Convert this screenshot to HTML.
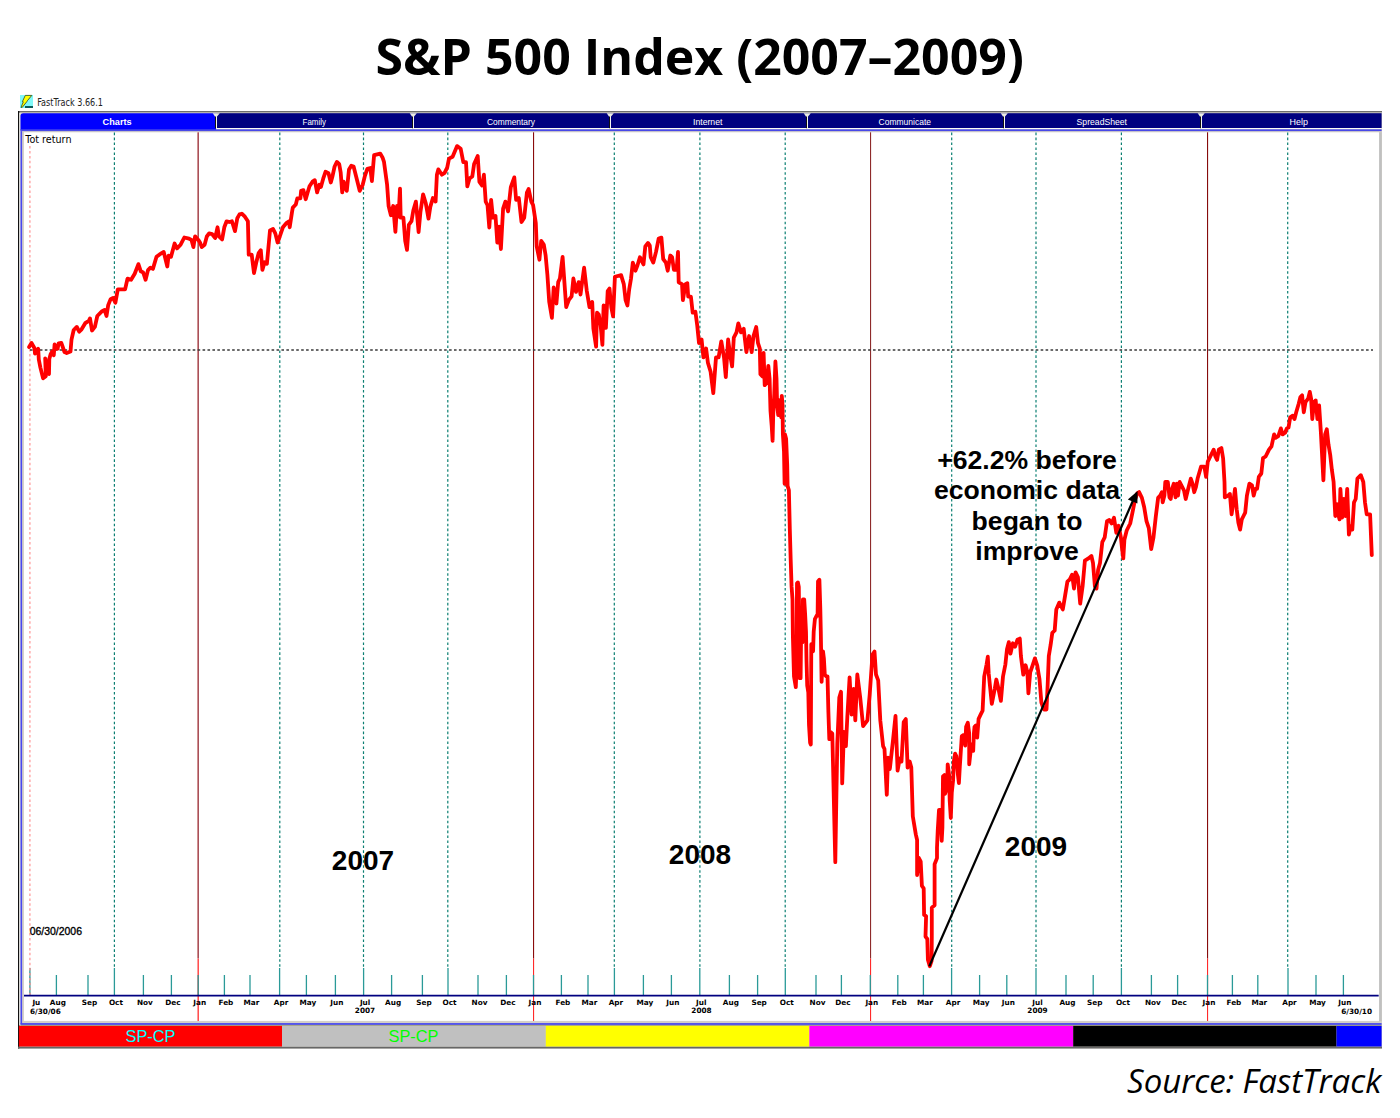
<!DOCTYPE html>
<html><head><meta charset="utf-8"><title>S&amp;P 500 Index (2007–2009)</title>
<style>
html,body{margin:0;padding:0;background:#fff;width:1400px;height:1118px;overflow:hidden}
svg{display:block}
.title{font-family:"Open Sans","Liberation Sans",sans-serif;font-weight:700;font-size:50px;fill:#000}
.src{font-family:"Open Sans","Liberation Sans",sans-serif;font-style:italic;font-size:33px;fill:#000}
.ft{font-family:"DejaVu Sans","Liberation Sans",sans-serif;font-size:10px;fill:#222}
.tab{font-family:"Liberation Sans",sans-serif;font-size:9.6px;fill:#fff}
.tab.b{font-weight:700}
.sp{font-family:"Liberation Sans",sans-serif;font-size:16.4px}
.ax text{font-family:"DejaVu Sans","Liberation Sans",sans-serif;font-weight:700;font-size:7.3px;fill:#000}
.tot{font-family:"DejaVu Sans","Liberation Sans",sans-serif;font-size:10.3px;fill:#000}
.d06{font-family:"Liberation Sans",sans-serif;font-size:11.6px;fill:#000;stroke:#000;stroke-width:0.35px}
.ann text{font-family:"Liberation Sans",Arial,sans-serif;font-weight:700;font-size:26.6px;fill:#000;text-anchor:middle}
.yr{font-family:"Liberation Sans",Arial,sans-serif;font-weight:700;font-size:28px;fill:#000;text-anchor:middle}
</style></head><body>
<svg width="1400" height="1118" viewBox="0 0 1400 1118">
<rect x="0" y="0" width="1400" height="1118" fill="#fff"/>
<text x="699.7" y="74.8" text-anchor="middle" class="title" textLength="648.3" lengthAdjust="spacingAndGlyphs">S&amp;P 500 Index (2007–2009)</text>
<rect x="20" y="95" width="13" height="13" fill="#7ff8f8"/>
<path d="M25.3,95.4 L31.8,95.4 L27.3,100.8 L26.8,101.7 L22.3,107.3 L21,107.4 L23.3,101.8 L22.4,101.6 Z" fill="#ffff00" stroke="#2a3a10" stroke-width="0.75" stroke-linejoin="round"/>
<rect x="25" y="106" width="8" height="2" fill="#0b5a5a"/>
<text x="37.2" y="105.9" class="ft" textLength="65.8" lengthAdjust="spacingAndGlyphs">FastTrack 3.66.1</text>
<rect x="18" y="111" width="1364" height="937.5" fill="#d4d0c8"/>
<rect x="18" y="111" width="1364" height="1.3" fill="#6e6e6e"/>
<rect x="18" y="111" width="1.3" height="937.5" fill="#111"/>
<rect x="19.3" y="113" width="1.2" height="912" fill="#f2f2ee"/>
<rect x="18" y="1046.6" width="1364" height="1.9" fill="#666"/>
<path d="M20.5,130.5 L20.5,116 Q20.5,113.2 23.3,113.2 L216,113.2 L216,130.5 Z" fill="#0000ff"/>
<rect x="216.2" y="113.2" width="196.8" height="14.8" fill="#000080"/>
<rect x="413" y="113.2" width="197" height="14.8" fill="#000080"/>
<rect x="610" y="113.2" width="197" height="14.8" fill="#000080"/>
<rect x="807" y="113.2" width="197" height="14.8" fill="#000080"/>
<rect x="1004" y="113.2" width="196.5" height="14.8" fill="#000080"/>
<rect x="1200.5" y="113.2" width="181.0999999999999" height="14.8" fill="#000080"/>
<rect x="216.2" y="128" width="1165.4" height="1.3" fill="#fbfbf4"/>
<rect x="20.5" y="129.3" width="1361.1" height="1.8" fill="#4848e8"/>
<rect x="215" y="115.8" width="1" height="12.4" fill="#101010"/>
<rect x="216" y="115.8" width="1" height="12.8" fill="#f6f6f2"/>
<path d="M212.7,113.2 L219.8,113.2 L217,116.6 L215,116.6 Z" fill="#ecece4"/>
<rect x="412" y="115.8" width="1" height="12.4" fill="#101010"/>
<rect x="413" y="115.8" width="1" height="12.8" fill="#f6f6f2"/>
<path d="M409.7,113.2 L416.8,113.2 L414,116.6 L412,116.6 Z" fill="#ecece4"/>
<rect x="609" y="115.8" width="1" height="12.4" fill="#101010"/>
<rect x="610" y="115.8" width="1" height="12.8" fill="#f6f6f2"/>
<path d="M606.7,113.2 L613.8,113.2 L611,116.6 L609,116.6 Z" fill="#ecece4"/>
<rect x="806" y="115.8" width="1" height="12.4" fill="#101010"/>
<rect x="807" y="115.8" width="1" height="12.8" fill="#f6f6f2"/>
<path d="M803.7,113.2 L810.8,113.2 L808,116.6 L806,116.6 Z" fill="#ecece4"/>
<rect x="1003" y="115.8" width="1" height="12.4" fill="#101010"/>
<rect x="1004" y="115.8" width="1" height="12.8" fill="#f6f6f2"/>
<path d="M1000.7,113.2 L1007.8,113.2 L1005,116.6 L1003,116.6 Z" fill="#ecece4"/>
<rect x="1200" y="115.8" width="1" height="12.4" fill="#101010"/>
<rect x="1201" y="115.8" width="1" height="12.8" fill="#f6f6f2"/>
<path d="M1197.7,113.2 L1204.8,113.2 L1202,116.6 L1200,116.6 Z" fill="#ecece4"/>
<text x="102.6" y="124.5" class="tab b" textLength="29.0" lengthAdjust="spacingAndGlyphs">Charts</text>
<text x="302.6" y="124.5" class="tab" textLength="23.4" lengthAdjust="spacingAndGlyphs">Family</text>
<text x="487.0" y="124.5" class="tab" textLength="48.0" lengthAdjust="spacingAndGlyphs">Commentary</text>
<text x="693.0" y="124.5" class="tab" textLength="29.4" lengthAdjust="spacingAndGlyphs">Internet</text>
<text x="878.6" y="124.5" class="tab" textLength="52.4" lengthAdjust="spacingAndGlyphs">Communicate</text>
<text x="1076.6" y="124.5" class="tab" textLength="50.4" lengthAdjust="spacingAndGlyphs">SpreadSheet</text>
<text x="1289.6" y="124.5" class="tab" textLength="18.4" lengthAdjust="spacingAndGlyphs">Help</text>
<rect x="20.5" y="131.1" width="1.6" height="893" fill="#4848f0"/>
<rect x="24" y="132.3" width="1355.2" height="888.6" fill="#fff"/>
<rect x="1379.2" y="132.3" width="2.5" height="889" fill="#c0c0c0"/>
<rect x="20.5" y="1023.1" width="1361.1" height="1.8" fill="#4848f0"/>
<rect x="20.5" y="1024.9" width="1361.1" height="1" fill="#a0a080"/>
<rect x="18.9" y="1025.9" width="263.1" height="20.6" fill="#ff0000"/>
<rect x="282" y="1025.9" width="263.8" height="20.6" fill="#c0c0c0"/>
<rect x="545.8" y="1025.9" width="263.6" height="20.6" fill="#ffff00"/>
<rect x="809.4" y="1025.9" width="263.8" height="20.6" fill="#ff00ff"/>
<rect x="1073.2" y="1025.9" width="263.3" height="20.6" fill="#000000"/>
<rect x="1336.5" y="1025.9" width="45.1" height="20.6" fill="#0000ff"/>
<text x="150.5" y="1042.4" text-anchor="middle" class="sp" fill="#00ffff">SP-CP</text>
<text x="413.5" y="1042.4" text-anchor="middle" class="sp" fill="#00ff00">SP-CP</text>
<g>
<line x1="29.9" y1="146" x2="29.9" y2="995" stroke="#ff9a9a" stroke-width="1.3" stroke-dasharray="2.5 2.45"/>
<line x1="114.4" y1="132.6" x2="114.4" y2="968" stroke="#0b7f72" stroke-width="1.2" stroke-dasharray="2.6 2.35"/>
<line x1="279.8" y1="132.6" x2="279.8" y2="968" stroke="#0b7f72" stroke-width="1.2" stroke-dasharray="2.6 2.35"/>
<line x1="363.5" y1="132.6" x2="363.5" y2="968" stroke="#0b7f72" stroke-width="1.2" stroke-dasharray="2.6 2.35"/>
<line x1="447.8" y1="132.6" x2="447.8" y2="968" stroke="#0b7f72" stroke-width="1.2" stroke-dasharray="2.6 2.35"/>
<line x1="614.3" y1="132.6" x2="614.3" y2="968" stroke="#0b7f72" stroke-width="1.2" stroke-dasharray="2.6 2.35"/>
<line x1="699.9" y1="132.6" x2="699.9" y2="968" stroke="#0b7f72" stroke-width="1.2" stroke-dasharray="2.6 2.35"/>
<line x1="785.2" y1="132.6" x2="785.2" y2="968" stroke="#0b7f72" stroke-width="1.2" stroke-dasharray="2.6 2.35"/>
<line x1="951.7" y1="132.6" x2="951.7" y2="968" stroke="#0b7f72" stroke-width="1.2" stroke-dasharray="2.6 2.35"/>
<line x1="1036" y1="132.6" x2="1036" y2="968" stroke="#0b7f72" stroke-width="1.2" stroke-dasharray="2.6 2.35"/>
<line x1="1121.4" y1="132.6" x2="1121.4" y2="968" stroke="#0b7f72" stroke-width="1.2" stroke-dasharray="2.6 2.35"/>
<line x1="1287.7" y1="132.6" x2="1287.7" y2="968" stroke="#0b7f72" stroke-width="1.2" stroke-dasharray="2.6 2.35"/>
<rect x="197" y="132.3" width="1" height="826.3" fill="#cf9090"/>
<rect x="198" y="132.3" width="1" height="826.3" fill="#a8505a"/>
<rect x="197" y="958.6" width="1" height="62.4" fill="#ff9a9a"/>
<rect x="198" y="958.6" width="1" height="62.4" fill="#ff5050"/>
<rect x="533" y="132.3" width="1.1" height="826.3" fill="#8a0c0c"/>
<rect x="533" y="958.6" width="1.1" height="62.4" fill="#ff2a2a"/>
<rect x="870" y="132.3" width="1.1" height="826.3" fill="#8e2a2a"/>
<rect x="870" y="958.6" width="1.1" height="62.4" fill="#ff2a2a"/>
<rect x="1207" y="132.3" width="1.1" height="826.3" fill="#860c0c"/>
<rect x="1207" y="958.6" width="1.1" height="62.4" fill="#ff2a2a"/>
<line x1="30" y1="350" x2="1373" y2="350" stroke="#3a3a3a" stroke-width="1.3" stroke-dasharray="2.6 2.33"/>
</g>
<line x1="29.9" y1="968" x2="29.9" y2="995" stroke="#2a9a98" stroke-width="1.3"/>
<line x1="29.9" y1="968" x2="29.9" y2="995" stroke="#ff9a9a" stroke-width="1.3" stroke-dasharray="2.5 2.45"/>
<line x1="56.4" y1="975" x2="56.4" y2="995" stroke="#2a9a98" stroke-width="1.3"/>
<line x1="88" y1="975" x2="88" y2="995" stroke="#2a9a98" stroke-width="1.3"/>
<line x1="114.4" y1="968" x2="114.4" y2="995" stroke="#2a9a98" stroke-width="1.3"/>
<line x1="143.4" y1="975" x2="143.4" y2="995" stroke="#2a9a98" stroke-width="1.3"/>
<line x1="171.4" y1="975" x2="171.4" y2="995" stroke="#2a9a98" stroke-width="1.3"/>
<line x1="198.2" y1="975" x2="198.2" y2="995" stroke="#2a9a98" stroke-width="1.3"/>
<line x1="224.4" y1="975" x2="224.4" y2="995" stroke="#2a9a98" stroke-width="1.3"/>
<line x1="250" y1="975" x2="250" y2="995" stroke="#2a9a98" stroke-width="1.3"/>
<line x1="279.6" y1="968" x2="279.6" y2="995" stroke="#2a9a98" stroke-width="1.3"/>
<line x1="306.4" y1="975" x2="306.4" y2="995" stroke="#2a9a98" stroke-width="1.3"/>
<line x1="335.4" y1="975" x2="335.4" y2="995" stroke="#2a9a98" stroke-width="1.3"/>
<line x1="363.6" y1="968" x2="363.6" y2="995" stroke="#2a9a98" stroke-width="1.3"/>
<line x1="391.6" y1="975" x2="391.6" y2="995" stroke="#2a9a98" stroke-width="1.3"/>
<line x1="422.4" y1="975" x2="422.4" y2="995" stroke="#2a9a98" stroke-width="1.3"/>
<line x1="448" y1="968" x2="448" y2="995" stroke="#2a9a98" stroke-width="1.3"/>
<line x1="478" y1="975" x2="478" y2="995" stroke="#2a9a98" stroke-width="1.3"/>
<line x1="506.4" y1="975" x2="506.4" y2="995" stroke="#2a9a98" stroke-width="1.3"/>
<line x1="533.5" y1="975" x2="533.5" y2="995" stroke="#2a9a98" stroke-width="1.3"/>
<line x1="561.4" y1="975" x2="561.4" y2="995" stroke="#2a9a98" stroke-width="1.3"/>
<line x1="588" y1="975" x2="588" y2="995" stroke="#2a9a98" stroke-width="1.3"/>
<line x1="614.4" y1="968" x2="614.4" y2="995" stroke="#2a9a98" stroke-width="1.3"/>
<line x1="643.4" y1="975" x2="643.4" y2="995" stroke="#2a9a98" stroke-width="1.3"/>
<line x1="671.4" y1="975" x2="671.4" y2="995" stroke="#2a9a98" stroke-width="1.3"/>
<line x1="699.8" y1="968" x2="699.8" y2="995" stroke="#2a9a98" stroke-width="1.3"/>
<line x1="729.4" y1="975" x2="729.4" y2="995" stroke="#2a9a98" stroke-width="1.3"/>
<line x1="757.6" y1="975" x2="757.6" y2="995" stroke="#2a9a98" stroke-width="1.3"/>
<line x1="785.3" y1="968" x2="785.3" y2="995" stroke="#2a9a98" stroke-width="1.3"/>
<line x1="816" y1="975" x2="816" y2="995" stroke="#2a9a98" stroke-width="1.3"/>
<line x1="841.4" y1="975" x2="841.4" y2="995" stroke="#2a9a98" stroke-width="1.3"/>
<line x1="870.3" y1="975" x2="870.3" y2="995" stroke="#2a9a98" stroke-width="1.3"/>
<line x1="897.8" y1="975" x2="897.8" y2="995" stroke="#2a9a98" stroke-width="1.3"/>
<line x1="923.4" y1="975" x2="923.4" y2="995" stroke="#2a9a98" stroke-width="1.3"/>
<line x1="951.6" y1="968" x2="951.6" y2="995" stroke="#2a9a98" stroke-width="1.3"/>
<line x1="979.6" y1="975" x2="979.6" y2="995" stroke="#2a9a98" stroke-width="1.3"/>
<line x1="1006.8" y1="975" x2="1006.8" y2="995" stroke="#2a9a98" stroke-width="1.3"/>
<line x1="1036" y1="968" x2="1036" y2="995" stroke="#2a9a98" stroke-width="1.3"/>
<line x1="1066" y1="975" x2="1066" y2="995" stroke="#2a9a98" stroke-width="1.3"/>
<line x1="1093.2" y1="975" x2="1093.2" y2="995" stroke="#2a9a98" stroke-width="1.3"/>
<line x1="1121.4" y1="968" x2="1121.4" y2="995" stroke="#2a9a98" stroke-width="1.3"/>
<line x1="1151.4" y1="975" x2="1151.4" y2="995" stroke="#2a9a98" stroke-width="1.3"/>
<line x1="1177.6" y1="975" x2="1177.6" y2="995" stroke="#2a9a98" stroke-width="1.3"/>
<line x1="1207.5" y1="975" x2="1207.5" y2="995" stroke="#2a9a98" stroke-width="1.3"/>
<line x1="1232.4" y1="975" x2="1232.4" y2="995" stroke="#2a9a98" stroke-width="1.3"/>
<line x1="1257.8" y1="975" x2="1257.8" y2="995" stroke="#2a9a98" stroke-width="1.3"/>
<line x1="1288" y1="968" x2="1288" y2="995" stroke="#2a9a98" stroke-width="1.3"/>
<line x1="1316" y1="975" x2="1316" y2="995" stroke="#2a9a98" stroke-width="1.3"/>
<line x1="1343.4" y1="975" x2="1343.4" y2="995" stroke="#2a9a98" stroke-width="1.3"/>
<line x1="24" y1="995.6" x2="1378.7" y2="995.6" stroke="#000080" stroke-width="1.6"/>
<g class="ax">
<text x="32.4" y="1004.7">Ju</text>
<text x="57.9" y="1004.7" text-anchor="middle">Aug</text>
<text x="89.5" y="1004.7" text-anchor="middle">Sep</text>
<text x="115.9" y="1004.7" text-anchor="middle">Oct</text>
<text x="144.9" y="1004.7" text-anchor="middle">Nov</text>
<text x="172.9" y="1004.7" text-anchor="middle">Dec</text>
<text x="199.7" y="1004.7" text-anchor="middle">Jan</text>
<text x="225.9" y="1004.7" text-anchor="middle">Feb</text>
<text x="251.5" y="1004.7" text-anchor="middle">Mar</text>
<text x="281.1" y="1004.7" text-anchor="middle">Apr</text>
<text x="307.9" y="1004.7" text-anchor="middle">May</text>
<text x="336.9" y="1004.7" text-anchor="middle">Jun</text>
<text x="365.1" y="1004.7" text-anchor="middle">Jul</text>
<text x="393.1" y="1004.7" text-anchor="middle">Aug</text>
<text x="423.9" y="1004.7" text-anchor="middle">Sep</text>
<text x="449.5" y="1004.7" text-anchor="middle">Oct</text>
<text x="479.5" y="1004.7" text-anchor="middle">Nov</text>
<text x="507.9" y="1004.7" text-anchor="middle">Dec</text>
<text x="535.0" y="1004.7" text-anchor="middle">Jan</text>
<text x="562.9" y="1004.7" text-anchor="middle">Feb</text>
<text x="589.5" y="1004.7" text-anchor="middle">Mar</text>
<text x="615.9" y="1004.7" text-anchor="middle">Apr</text>
<text x="644.9" y="1004.7" text-anchor="middle">May</text>
<text x="672.9" y="1004.7" text-anchor="middle">Jun</text>
<text x="701.3" y="1004.7" text-anchor="middle">Jul</text>
<text x="730.9" y="1004.7" text-anchor="middle">Aug</text>
<text x="759.1" y="1004.7" text-anchor="middle">Sep</text>
<text x="786.8" y="1004.7" text-anchor="middle">Oct</text>
<text x="817.5" y="1004.7" text-anchor="middle">Nov</text>
<text x="842.9" y="1004.7" text-anchor="middle">Dec</text>
<text x="871.8" y="1004.7" text-anchor="middle">Jan</text>
<text x="899.3" y="1004.7" text-anchor="middle">Feb</text>
<text x="924.9" y="1004.7" text-anchor="middle">Mar</text>
<text x="953.1" y="1004.7" text-anchor="middle">Apr</text>
<text x="981.1" y="1004.7" text-anchor="middle">May</text>
<text x="1008.3" y="1004.7" text-anchor="middle">Jun</text>
<text x="1037.5" y="1004.7" text-anchor="middle">Jul</text>
<text x="1067.5" y="1004.7" text-anchor="middle">Aug</text>
<text x="1094.7" y="1004.7" text-anchor="middle">Sep</text>
<text x="1122.9" y="1004.7" text-anchor="middle">Oct</text>
<text x="1152.9" y="1004.7" text-anchor="middle">Nov</text>
<text x="1179.1" y="1004.7" text-anchor="middle">Dec</text>
<text x="1209.0" y="1004.7" text-anchor="middle">Jan</text>
<text x="1233.9" y="1004.7" text-anchor="middle">Feb</text>
<text x="1259.3" y="1004.7" text-anchor="middle">Mar</text>
<text x="1289.5" y="1004.7" text-anchor="middle">Apr</text>
<text x="1317.5" y="1004.7" text-anchor="middle">May</text>
<text x="1344.9" y="1004.7" text-anchor="middle">Jun</text>
<text x="30" y="1013.7">6/30/06</text>
<text x="365" y="1013.3" text-anchor="middle">2007</text>
<text x="701.5" y="1013.3" text-anchor="middle">2008</text>
<text x="1037.5" y="1013.3" text-anchor="middle">2009</text>
<text x="1372" y="1013.7" text-anchor="end">6/30/10</text>
</g>
<text x="25.2" y="142.9" class="tot" textLength="46.3" lengthAdjust="spacingAndGlyphs">Tot return</text>
<text x="29.7" y="934.7" class="d06" textLength="52.3" lengthAdjust="spacingAndGlyphs">06/30/2006</text>
<path d="M29.1,347.0 L31.5,342.9 L34.5,348.2 L35.0,353.6 L38.2,348.8 L38.8,359.5 L40.4,367.6 L43.1,378.3 L45.8,376.2 L45.2,358.4 L47.4,370.8 L49.0,374.0 L49.3,359.0 L50.6,354.2 L52.2,351.5 L53.8,355.2 L54.6,344.5 L57.6,348.8 L58.6,343.4 L61.3,342.9 L64.5,352.0 L66.7,353.0 L70.5,351.5 L71.5,339.7 L73.7,330.0 L76.8,326.9 L79.2,331.7 L81.6,329.3 L85.2,323.2 L88.8,320.8 L90.0,318.4 L92.0,330.5 L94.9,326.9 L97.3,316.0 L102.1,311.2 L104.5,310.0 L106.5,316.0 L108.2,305.1 L110.6,299.1 L113.0,297.9 L115.4,302.7 L117.8,289.4 L121.4,289.4 L125.1,289.4 L127.5,278.6 L131.1,279.8 L134.7,273.7 L138.4,264.1 L140.8,271.3 L143.2,272.5 L145.6,279.8 L148.0,270.1 L150.4,267.7 L152.9,268.9 L156.5,256.8 L159.6,254.4 L163.7,252.0 L164.9,256.8 L167.3,266.5 L168.6,255.6 L171.0,256.8 L174.6,243.5 L177.0,248.4 L180.6,244.7 L184.3,237.5 L189.1,238.7 L191.5,239.9 L193.4,247.1 L195.1,236.3 L198.3,239.9 L200.0,242.5 L201.8,247.1 L204.6,244.8 L206.8,236.5 L209.1,233.4 L212.2,234.2 L215.2,238.0 L217.5,227.3 L219.0,236.5 L222.1,239.5 L224.3,227.3 L226.6,221.3 L229.7,222.0 L231.9,221.3 L235.0,231.1 L237.3,218.2 L239.5,214.4 L241.8,213.7 L244.9,216.7 L247.9,221.3 L248.7,254.7 L251.7,254.7 L254.0,273.0 L256.3,262.3 L258.6,253.2 L260.8,250.2 L262.4,269.9 L264.6,262.3 L266.9,263.8 L270.0,230.4 L273.0,228.9 L275.3,233.4 L277.6,242.5 L279.8,236.5 L282.9,227.3 L286.7,222.8 L289.0,221.3 L289.7,227.3 L292.0,212.1 L292.8,207.6 L295.8,204.5 L297.3,198.4 L300.4,198.4 L301.1,190.8 L303.4,190.1 L305.7,199.2 L307.2,193.9 L309.5,186.3 L312.5,181.7 L314.8,180.2 L317.1,192.4 L319.4,184.8 L320.9,187.0 L323.2,178.7 L325.5,171.8 L328.5,173.3 L330.8,182.5 L332.3,177.1 L334.6,166.5 L336.9,161.9 L339.2,164.2 L340.7,172.6 L342.2,192.4 L343.7,181.7 L345.2,187.8 L346.8,190.8 L349.0,169.5 L351.3,165.7 L353.6,166.5 L356.7,178.7 L359.7,190.8 L362.7,184.8 L365.0,175.6 L367.3,168.8 L370.3,168.0 L371.9,181.0 L374.1,155.1 L377.2,154.3 L380.2,153.6 L382.5,157.4 L384.0,161.9 L387.1,184.8 L388.6,206.0 L390.9,215.2 L393.2,206.0 L395.4,231.9 L397.0,206.0 L398.5,216.7 L400.0,188.6 L400.7,217.7 L403.4,217.7 L405.2,240.9 L407.0,249.9 L408.8,224.8 L411.5,221.2 L413.3,210.5 L415.9,201.6 L418.6,232.0 L420.4,212.3 L423.1,194.4 L425.8,203.3 L428.5,218.6 L430.3,206.9 L432.9,198.0 L435.6,201.6 L436.9,174.7 L438.3,169.4 L441.9,174.7 L444.6,172.9 L447.2,167.6 L449.0,158.6 L452.6,156.8 L457.1,146.1 L460.7,148.8 L463.3,162.2 L466.0,162.2 L467.3,186.4 L469.6,178.3 L472.3,176.5 L474.1,164.0 L477.7,155.9 L479.4,181.9 L482.1,185.5 L483.9,174.7 L485.7,201.6 L487.5,205.1 L489.3,227.5 L491.1,199.8 L492.9,217.7 L495.5,215.9 L497.3,242.7 L499.1,226.6 L500.9,249.0 L503.1,208.7 L505.4,201.6 L508.1,211.4 L510.8,187.2 L514.3,177.4 L516.1,199.8 L518.8,198.0 L521.5,222.1 L524.2,217.7 L526.9,192.6 L528.6,189.0 L531.3,201.6 L533.1,205.1 L535.8,223.0 L536.7,246.3 L539.4,259.7 L541.2,240.9 L543.8,244.5 L545.6,255.2 L547.4,274.9 L549.2,301.7 L551.9,317.8 L553.7,287.4 L556.4,303.5 L558.2,282.1 L559.9,278.5 L562.6,257.0 L566.2,307.1 L568.9,299.9 L571.6,296.4 L573.4,278.5 L576.0,291.9 L578.7,282.1 L580.5,294.6 L584.1,267.7 L586.8,291.0 L589.5,307.1 L592.2,302.0 L593.4,328.8 L596.1,346.7 L597.0,312.7 L598.8,314.5 L600.6,325.2 L602.4,344.9 L603.6,305.5 L605.9,327.9 L607.7,291.2 L609.5,288.6 L611.3,307.3 L613.1,316.3 L614.9,276.9 L617.6,276.0 L621.1,275.1 L623.8,284.1 L625.6,300.2 L627.4,305.5 L629.2,289.4 L631.0,278.7 L632.8,262.6 L635.5,270.7 L637.2,266.2 L639.9,257.2 L643.5,264.4 L645.3,246.5 L648.0,242.9 L649.8,245.6 L650.7,257.2 L653.3,262.6 L656.0,251.9 L658.7,238.5 L661.4,237.6 L663.2,259.0 L665.9,262.6 L667.7,270.7 L670.3,255.5 L672.1,257.2 L673.9,269.8 L676.6,269.8 L678.0,251.9 L678.7,282.3 L682.0,284.1 L682.9,300.2 L685.5,284.1 L687.3,283.2 L688.2,296.6 L690.9,296.6 L692.7,312.7 L695.4,311.8 L697.2,325.2 L699.0,343.1 L701.6,339.5 L703.4,357.4 L706.1,348.5 L707.9,362.8 L710.6,371.7 L713.3,393.2 L716.0,357.4 L718.6,357.4 L721.3,341.3 L724.0,357.4 L725.8,377.1 L728.1,339.5 L730.3,355.6 L732.1,366.4 L733.8,337.7 L736.5,332.4 L738.3,323.4 L741.0,332.4 L743.7,328.8 L746.4,352.1 L749.1,336.0 L751.7,352.1 L753.5,336.0 L756.2,327.0 L758.0,343.1 L759.8,348.5 L760.4,374.3 L762.5,376.5 L763.6,352.9 L764.7,385.1 L766.8,382.9 L768.3,365.8 L769.6,378.6 L770.5,410.8 L771.7,425.8 L772.6,440.9 L773.2,415.1 L774.3,393.6 L775.4,361.5 L776.5,378.6 L777.1,404.4 L778.2,415.1 L779.0,400.1 L780.3,410.8 L781.2,417.3 L781.8,395.8 L782.5,404.4 L782.9,434.4 L784.0,451.6 L784.6,483.8 L785.0,434.4 L786.1,438.7 L787.2,464.5 L787.6,485.9 L788.9,490.2 L789.8,528.8 L790.7,560.0 L791.6,586.9 L792.5,599.4 L792.9,637.0 L794.0,676.4 L795.8,687.2 L796.5,667.5 L797.0,583.3 L797.9,582.4 L798.8,586.9 L799.3,631.6 L799.7,678.2 L800.6,678.2 L801.1,635.2 L801.9,637.0 L802.4,642.4 L802.9,599.4 L804.2,599.4 L805.1,613.7 L806.0,631.6 L806.5,660.3 L807.2,685.4 L808.3,692.5 L809.0,724.8 L810.1,742.7 L810.8,744.5 L811.3,644.2 L812.6,644.2 L813.1,651.3 L813.7,631.6 L814.9,619.1 L816.7,615.5 L817.6,615.5 L818.0,581.5 L819.4,579.7 L820.3,608.4 L820.8,631.6 L821.2,654.9 L821.6,681.8 L822.6,660.3 L823.0,651.3 L823.9,658.5 L824.8,674.6 L826.2,676.4 L827.5,676.4 L828.4,712.2 L829.3,739.1 L830.5,732.0 L832.3,733.7 L835.3,862.1 L836.4,794.8 L837.3,743.3 L839.3,697.5 L841.0,691.7 L842.2,783.4 L843.9,731.8 L845.9,746.1 L847.3,717.5 L849.6,677.4 L851.6,714.6 L853.6,688.9 L855.3,720.4 L857.3,674.5 L860.2,697.5 L863.1,726.1 L867.4,720.4 L869.7,694.6 L872.5,654.5 L874.5,651.6 L876.0,674.5 L878.2,680.3 L880.3,720.4 L883.1,746.1 L884.5,749.0 L886.8,794.8 L888.0,757.6 L889.7,769.0 L890.0,767.6 L893.0,740.2 L895.5,715.9 L897.6,770.6 L899.7,758.5 L901.5,761.5 L903.7,722.0 L905.8,719.0 L907.6,767.6 L909.7,761.5 L911.3,767.6 L912.8,816.2 L915.8,834.4 L917.1,840.0 L917.1,875.0 L918.9,858.0 L920.7,861.7 L921.9,885.9 L923.7,888.3 L924.1,914.9 L926.1,916.1 L925.5,936.6 L927.3,939.0 L927.9,959.6 L929.8,966.2 L931.6,960.8 L931.8,936.6 L931.8,907.6 L934.6,905.2 L934.6,864.2 L937.0,858.1 L937.0,847.5 L937.7,831.4 L939.0,809.9 L940.4,809.9 L941.7,840.8 L942.4,827.3 L943.0,776.4 L944.4,775.1 L945.1,793.8 L947.1,787.1 L947.7,764.3 L949.1,775.1 L949.7,800.5 L950.8,818.0 L951.8,792.5 L953.1,780.4 L953.8,761.7 L955.1,753.6 L956.4,756.3 L957.8,773.7 L958.9,783.1 L959.8,767.0 L960.5,756.3 L961.8,736.2 L963.8,734.9 L965.2,745.6 L966.1,726.8 L967.8,722.8 L969.2,733.5 L969.2,764.3 L970.5,752.3 L971.9,744.2 L973.2,750.9 L973.9,733.5 L974.5,726.8 L975.9,725.5 L977.2,737.5 L978.6,718.8 L980.6,714.7 L982.6,710.7 L984.2,676.5 L986.6,664.3 L987.8,656.7 L988.7,673.4 L991.8,703.8 L994.8,688.6 L996.3,679.5 L997.8,685.6 L1000.9,700.8 L1003.0,676.5 L1005.4,664.3 L1007.0,649.1 L1008.8,642.1 L1010.5,653.7 L1012.8,643.3 L1015.1,646.7 L1017.4,639.8 L1019.8,638.6 L1020.9,656.0 L1023.3,674.7 L1025.6,665.3 L1027.4,672.3 L1028.4,693.3 L1030.2,672.3 L1032.6,665.3 L1034.9,658.4 L1037.2,665.3 L1039.5,679.3 L1041.4,702.6 L1043.0,707.2 L1044.2,709.5 L1046.5,709.5 L1047.7,684.0 L1048.8,656.0 L1050.7,644.4 L1052.3,632.8 L1054.7,630.5 L1056.3,609.5 L1059.3,602.6 L1062.8,609.5 L1065.1,595.6 L1067.4,581.6 L1069.8,579.3 L1072.1,574.7 L1074.0,588.6 L1075.6,572.3 L1077.9,577.0 L1080.2,603.7 L1082.6,586.3 L1084.9,560.7 L1088.4,558.4 L1091.4,556.0 L1093.0,563.0 L1094.9,586.3 L1096.5,588.6 L1098.1,570.0 L1100.0,563.0 L1102.3,542.1 L1104.7,537.4 L1107.0,521.2 L1109.3,520.0 L1111.6,523.5 L1114.0,517.7 L1116.3,532.8 L1118.6,525.8 L1120.9,537.4 L1122.1,549.1 L1123.3,558.4 L1124.4,539.8 L1126.7,530.5 L1130.2,523.5 L1132.6,511.9 L1134.9,500.2 L1137.2,493.3 L1139.1,492.1 L1141.9,497.9 L1144.2,507.2 L1146.5,521.2 L1148.8,528.1 L1151.2,549.1 L1153.5,537.4 L1155.8,516.5 L1158.1,497.9 L1160.2,495.6 L1161.9,492.2 L1162.7,502.4 L1164.4,495.6 L1165.3,482.0 L1167.8,482.0 L1169.5,497.3 L1170.7,499.0 L1172.1,488.8 L1173.8,483.7 L1175.5,497.3 L1176.9,483.7 L1178.0,495.6 L1179.7,482.0 L1182.3,487.1 L1184.0,490.5 L1185.7,499.0 L1188.2,488.8 L1190.8,478.6 L1192.5,483.7 L1194.2,492.2 L1195.9,487.1 L1197.6,478.6 L1201.0,466.7 L1204.4,466.7 L1206.1,476.9 L1207.8,461.6 L1210.3,456.5 L1213.7,449.7 L1215.4,456.5 L1217.1,459.9 L1218.8,449.7 L1221.4,448.0 L1223.1,458.2 L1224.5,482.0 L1224.8,497.3 L1228.2,495.6 L1229.9,493.9 L1231.6,514.3 L1233.3,502.4 L1235.0,488.8 L1236.7,509.2 L1238.4,522.8 L1240.1,529.6 L1241.8,519.4 L1243.5,516.0 L1245.2,512.6 L1246.9,495.6 L1249.4,483.7 L1252.0,485.4 L1253.7,495.6 L1255.4,488.8 L1257.1,488.8 L1258.8,476.9 L1261.3,473.5 L1263.0,458.2 L1265.6,456.5 L1267.3,453.1 L1269.0,449.7 L1271.5,446.3 L1274.1,434.4 L1275.8,437.8 L1278.3,436.1 L1280.9,428.4 L1282.6,434.4 L1285.1,432.7 L1286.8,428.4 L1288.5,427.6 L1290.2,417.4 L1292.8,415.7 L1294.5,419.1 L1296.2,412.3 L1298.7,403.8 L1300.4,397.0 L1302.1,395.3 L1303.8,412.3 L1305.5,402.1 L1308.1,398.7 L1309.8,391.9 L1311.1,398.7 L1312.3,419.1 L1314.0,402.1 L1315.7,400.4 L1317.4,419.1 L1319.1,405.5 L1320.8,431.0 L1321.7,448.0 L1323.4,480.3 L1325.1,434.4 L1326.8,429.3 L1328.5,444.6 L1330.2,454.8 L1331.9,470.1 L1333.6,482.0 L1334.4,499.0 L1335.3,516.0 L1337.0,504.1 L1338.7,516.0 L1339.5,519.4 L1340.4,488.8 L1342.1,517.7 L1343.8,499.0 L1345.5,516.0 L1347.2,488.8 L1348.9,534.7 L1350.6,526.2 L1352.3,529.6 L1354.0,502.4 L1355.7,499.0 L1357.4,478.6 L1360.8,475.2 L1363.3,482.0 L1365.0,502.4 L1366.7,514.3 L1370.1,514.3 L1371.8,555.1" fill="none" stroke="#ff0000" stroke-width="3.8" stroke-linejoin="round" stroke-linecap="round"/>
<line x1="929.3" y1="966.3" x2="1133" y2="500.5" stroke="#000" stroke-width="2.2"/>
<path d="M1137.6,491 L1127.8,499.6 L1137.4,503.6 Z" fill="#000"/>
<g class="ann">
<text x="1027" y="468.8">+62.2% before</text>
<text x="1027" y="499.3">economic data</text>
<text x="1027" y="530">began to</text>
<text x="1027" y="560.2">improve</text>
</g>
<text x="363" y="870.4" class="yr">2007</text>
<text x="700" y="863.6" class="yr">2008</text>
<text x="1036" y="856.1" class="yr">2009</text>
<text x="1381.3" y="1092.9" text-anchor="end" class="src" textLength="254.3" lengthAdjust="spacingAndGlyphs">Source: FastTrack</text>
</svg>
</body></html>
